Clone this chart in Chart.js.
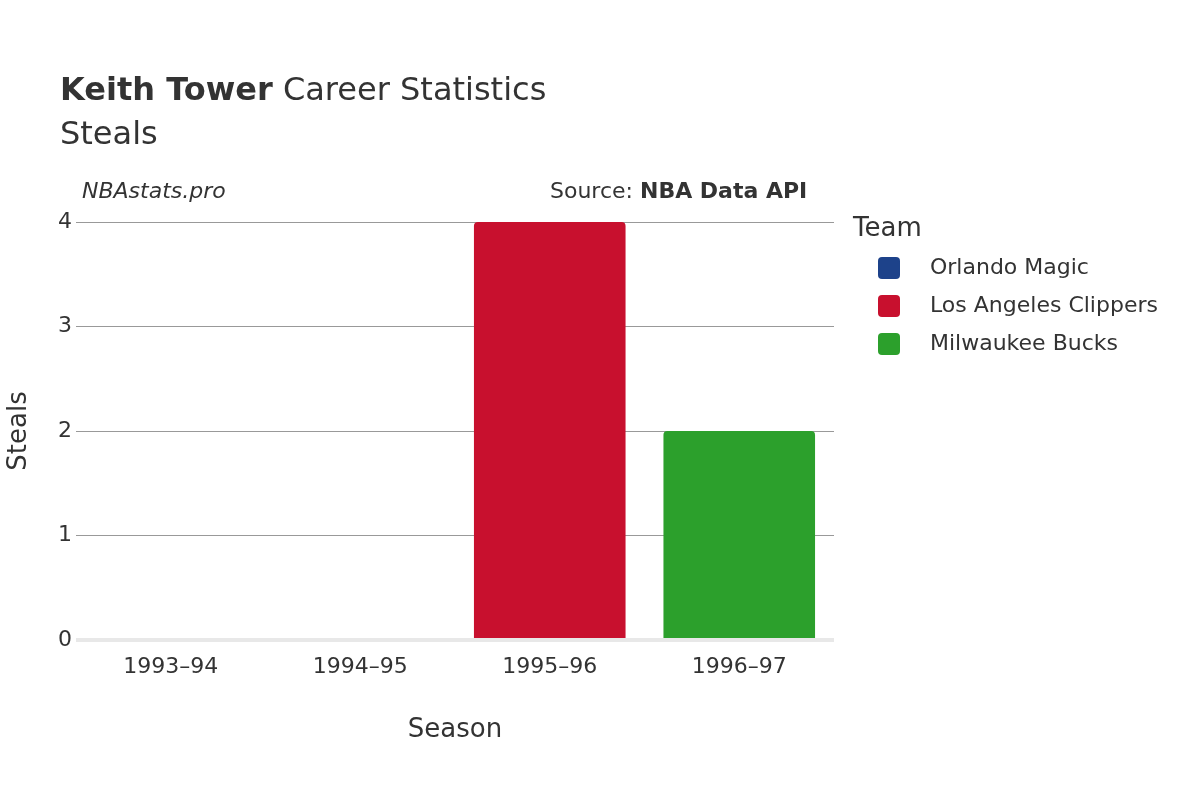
<!DOCTYPE html>
<html><head><meta charset="utf-8">
<script src="https://cdn.jsdelivr.net/npm/chart.js@4"></script>
<style>
body{margin:0;width:1200px;height:800px;background:#fff;font-family:"DejaVu Sans",sans-serif;color:#333;position:relative;overflow:hidden}
.t{position:absolute;white-space:nowrap}
canvas{position:absolute;left:0;top:0}
.sw{display:inline-block;width:22px;height:22px;border-radius:4px;vertical-align:middle;margin-right:30px}
</style></head><body>
<canvas id="c" width="1200" height="800"></canvas>
<div class="t" style="left:60px;top:70px;font-size:32px"><b>Keith Tower</b> Career Statistics</div>
<div class="t" style="left:60px;top:114px;font-size:32px">Steals</div>
<div class="t" style="left:82px;top:178px;font-size:22px;font-style:italic">NBAstats.pro</div>
<div class="t" style="left:550px;top:178px;font-size:22px">Source: <b>NBA Data API</b></div>
<div class="t" style="left:853px;top:212px;font-size:26px">Team</div>
<div id="leg"></div>
<script>
const seasons=["1993–94","1994–95","1995–96","1996–97"];
const teams=["Orlando Magic","Los Angeles Clippers","Milwaukee Bucks"];
const colors=["#1d428a","#c8102e","#2ca02c"];
const magic=[0,0,null,null];
const clippers=[null,null,4,null];
const bucks=[null,null,null,2];
const yTicks=[0,1,2,3,4];
const series=[magic,clippers,bucks];
const leg=document.getElementById('leg');
teams.forEach((t,i)=>{const d=document.createElement('div');d.className='t';d.style.left='878px';d.style.top=(254+i*38)+'px';d.style.fontSize='22px';d.innerHTML='<span class="sw" style="background:'+colors[i]+'"></span>'+t;leg.appendChild(d);});
new Chart(document.getElementById('c'),{type:'bar',
data:{labels:seasons,datasets:series.map((s,i)=>({label:teams[i],data:s,backgroundColor:colors[i],borderRadius:4,borderSkipped:'bottom',barPercentage:0.8,categoryPercentage:1,skipNull:true}))},
options:{responsive:false,animation:false,
layout:{padding:{left:0,right:366,top:222,bottom:50}},
plugins:{legend:{display:false},tooltip:{enabled:false}},
scales:{
x:{stacked:true,afterFit:s=>{s.height=110},grid:{display:false},border:{display:false},
ticks:{color:'#333',font:{family:'DejaVu Sans',size:22},padding:6},
title:{display:true,text:'Season',color:'#333',font:{family:'DejaVu Sans',size:26},padding:{top:14}}},
y:{stacked:true,min:0,max:4,afterFit:s=>{s.width=76},afterBuildTicks:s=>{s.ticks=yTicks.map(v=>({value:v}))},
grid:{color:c=>c.tick.value===0?'#e8e8e8':'#999',lineWidth:c=>c.tick.value===0?4:1,drawTicks:false},border:{display:false},
ticks:{color:'#333',font:{family:'DejaVu Sans',size:22},padding:4},
title:{display:true,text:'Steals',color:'#333',font:{family:'DejaVu Sans',size:26},padding:{bottom:8}}}}}});
</script></body></html>
